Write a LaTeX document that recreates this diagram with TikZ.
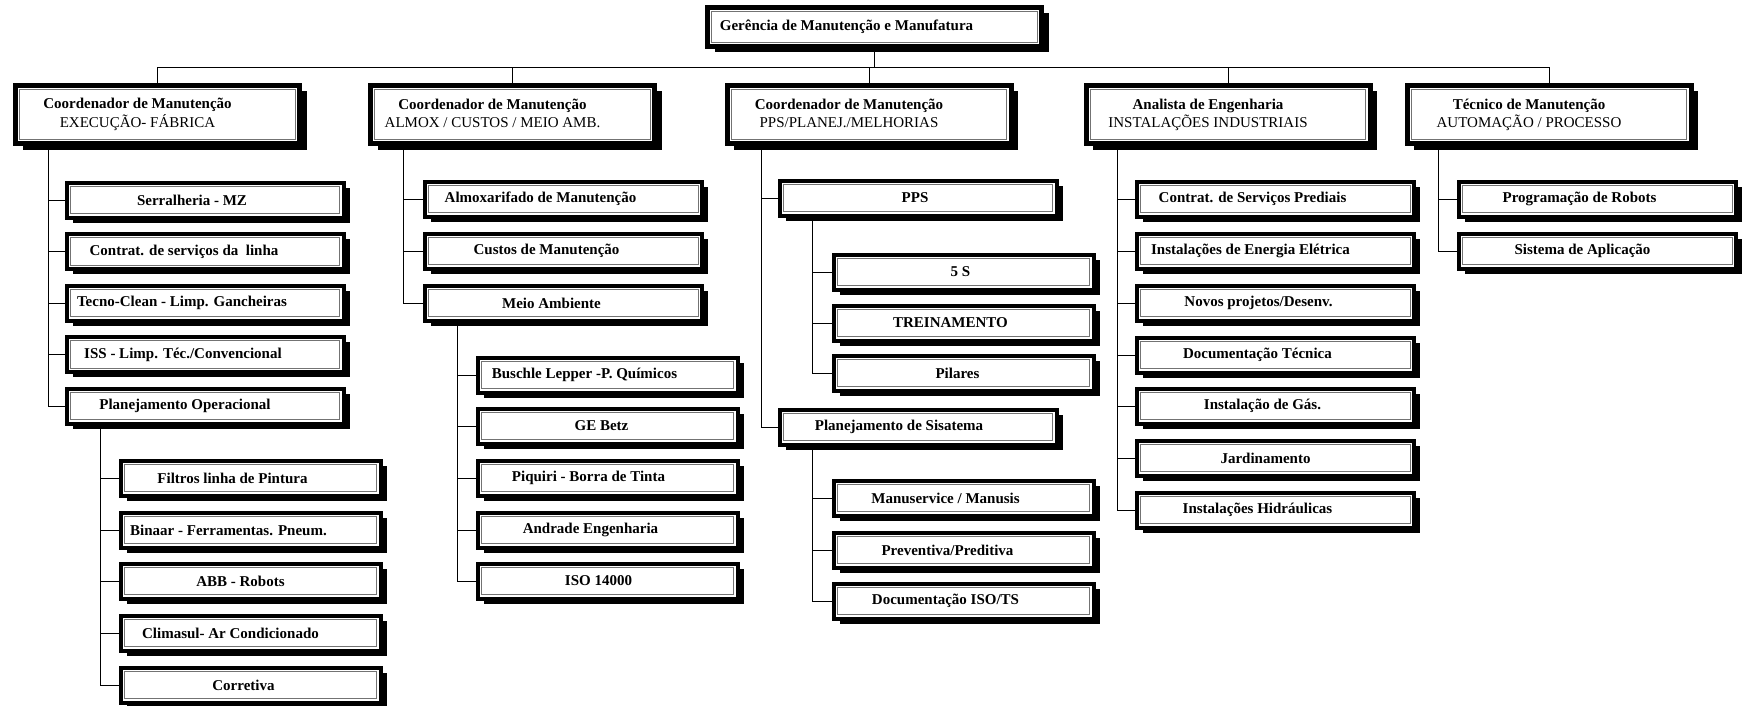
\documentclass[tikz,border=0pt]{standalone}
\usepackage{fontspec}
\setmainfont{Liberation Serif}
\usetikzlibrary{shadows}
% two-line caption of a coordinator box, shifted left by a trailing gap
\newcommand\twoline[2]{\begin{tabular}{@{}c@{}}#1\\\mdseries #2\end{tabular}\hspace*{40pt}}
\begin{document}
\begin{tikzpicture}[x=1pt,y=-1pt,
  box/.style={draw=black, fill=white, inner sep=0pt, outer sep=0pt,
    font=\fontsize{15}{18}\selectfont\bfseries},
  lvtop/.style={box, line width=5pt, minimum width=334pt, minimum height=39pt,
    drop shadow={shadow xshift=7pt, shadow yshift=-6pt, fill=black, opacity=1}},
  lvone/.style={box, line width=5pt, minimum width=284pt, minimum height=58pt,
    drop shadow={shadow xshift=7pt, shadow yshift=-6pt, fill=black, opacity=1}},
  lvtwo/.style={box, line width=4pt, minimum width=277pt, minimum height=35pt,
    drop shadow={shadow xshift=6pt, shadow yshift=-5pt, fill=black, opacity=1}},
  lvsub/.style={lvtwo, minimum width=260pt},
  innerline/.style={draw=black!55, line width=0.9pt},
  link/.style={draw=black, line width=1pt}
]
\useasboundingbox (0,0) rectangle (1752,706);

% bus and trunk positions
\coordinate (bus) at (0,68);
\coordinate (t1) at (48,0);
\coordinate (tp) at (100,0);
\coordinate (t2) at (403,0);
\coordinate (tm) at (457,0);
\coordinate (t3) at (761,0);
\coordinate (tq) at (812,0);
\coordinate (t4) at (1117,0);
\coordinate (t5) at (1438,0);

% top management
\node[lvtop] (g) at (874.5,27) {Gerência de Manutenção e Manufatura\hspace*{56pt}};

% coordinators
\node[lvone] (c1) at (157.5,114.5) {\twoline{Coordenador de Manutenção}{EXECUÇÃO- FÁBRICA}};
\node[lvone] (c2) at (512.5,114.5) {\twoline{Coordenador de Manutenção}{ALMOX / CUSTOS / MEIO AMB.}};
\node[lvone] (c3) at (869,114.5) {\twoline{Coordenador de Manutenção}{PPS/PLANEJ./MELHORIAS}};
\node[lvone] (c4) at (1228,114.5) {\twoline{Analista de Engenharia}{INSTALAÇÕES INDUSTRIAIS}};
\node[lvone] (c5) at (1549,114.5) {\twoline{Técnico de Manutenção}{AUTOMAÇÃO / PROCESSO}};

% column 1
\node[lvtwo] (s11) at (205,200) {Serralheria - MZ\hspace*{26pt}};
\node[lvtwo] (s12) at (205,251.5) {Contrat. de serviços da\ \ linha\hspace*{42pt}};
\node[lvtwo] (s13) at (205,303) {Tecno-Clean - Limp. Gancheiras\hspace*{46pt}};
\node[lvtwo] (s14) at (205,354.5) {ISS - Limp. Téc./Convencional\hspace*{44pt}};
\node[lvtwo] (s15) at (205,406) {Planejamento Operacional\hspace*{40pt}};
\node[lvsub] (p1) at (250.5,478) {Filtros linha de Pintura\hspace*{36pt}};
\node[lvsub] (p2) at (250.5,530) {Binaar - Ferramentas. Pneum.\hspace*{44pt}};
\node[lvsub] (p3) at (250.5,581) {ABB - Robots\hspace*{20pt}};
\node[lvsub] (p4) at (250.5,633) {Climasul- Ar Condicionado\hspace*{40pt}};
\node[lvsub] (p5) at (250.5,685) {Corretiva\hspace*{14pt}};

% column 2
\node[lvtwo] (s21) at (563.5,199) {Almoxarifado de Manutenção\hspace*{46pt}};
\node[lvtwo] (s22) at (563.5,251) {Custos de Manutenção\hspace*{34pt}};
\node[lvtwo] (s23) at (563.5,303) {Meio Ambiente\hspace*{24pt}};
\node[lvsub] (m1) at (607.5,375) {Buschle Lepper -P. Químicos\hspace*{46pt}};
\node[lvsub] (m2) at (607.5,426) {GE Betz\hspace*{12pt}};
\node[lvsub] (m3) at (607.5,478) {Piquiri - Borra de Tinta\hspace*{38pt}};
\node[lvsub] (m4) at (607.5,530) {Andrade Engenharia\hspace*{34pt}};
\node[lvsub] (m5) at (607.5,581) {ISO 14000\hspace*{18pt}};

% column 3
\node[lvtwo] (s31) at (918,198) {PPS\hspace*{6pt}};
\node[lvsub] (q1) at (963.5,272) {5 S\hspace*{6pt}};
\node[lvsub] (q2) at (963.5,323) {TREINAMENTO\hspace*{26pt}};
\node[lvsub] (q3) at (963.5,373) {Pilares\hspace*{12pt}};
\node[lvtwo] (s32) at (918,427) {Planejamento de Sisatema\hspace*{38pt}};
\node[lvsub] (r1) at (963.5,498) {Manuservice / Manusis\hspace*{36pt}};
\node[lvsub] (r2) at (963.5,550) {Preventiva/Preditiva\hspace*{32pt}};
\node[lvsub] (r3) at (963.5,601) {Documentação ISO/TS\hspace*{36pt}};

% column 4
\node[lvtwo] (s41) at (1275.5,199) {Contrat. de Serviços Prediais\hspace*{46pt}};
\node[lvtwo] (s42) at (1275.5,251) {Instalações de Energia Elétrica\hspace*{50pt}};
\node[lvtwo] (s43) at (1275.5,303) {Novos projetos/Desenv.\hspace*{34pt}};
\node[lvtwo] (s44) at (1275.5,355) {Documentação Técnica\hspace*{36pt}};
\node[lvtwo] (s45) at (1275.5,406) {Instalação de Gás.\hspace*{26pt}};
\node[lvtwo] (s46) at (1275.5,458) {Jardinamento\hspace*{20pt}};
\node[lvtwo] (s47) at (1275.5,510) {Instalações Hidráulicas\hspace*{36pt}};

% column 5
\node[lvtwo] (s51) at (1597.5,199) {Programação de Robots\hspace*{36pt}};
\node[lvtwo] (s52) at (1597.5,251) {Sistema de Aplicação\hspace*{30pt}};

% thin inner frame of each box
\foreach \n in {g,c1,c2,c3,c4,c5}
  \draw[innerline] ([shift={(4.2pt,-4.2pt)}]\n.north west) rectangle ([shift={(-4.2pt,4.2pt)}]\n.south east);
\foreach \n in {s11,s12,s13,s14,s15,p1,p2,p3,p4,p5,s21,s22,s23,m1,m2,m3,m4,m5,
                s31,q1,q2,q3,s32,r1,r2,r3,s41,s42,s43,s44,s45,s46,s47,s51,s52}
  \draw[innerline] ([shift={(3.6pt,-3.6pt)}]\n.north west) rectangle ([shift={(-3.6pt,3.6pt)}]\n.south east);

% top bus
\draw[link] (g.south) -- (g.south |- bus);
\draw[link] (c1.north) -- (c1.north |- bus) -- (c5.north |- bus) -- (c5.north);
\foreach \n in {c2,c3,c4}
  \draw[link] (\n.north) -- (\n.north |- bus);

% branches
\foreach \n in {s11,s12,s13,s14,s15}
  \draw[link] (t1 |- c1.south) |- (\n.west);
\foreach \n in {p1,p2,p3,p4,p5}
  \draw[link] (tp |- s15.south) |- (\n.west);
\foreach \n in {s21,s22,s23}
  \draw[link] (t2 |- c2.south) |- (\n.west);
\foreach \n in {m1,m2,m3,m4,m5}
  \draw[link] (tm |- s23.south) |- (\n.west);
\foreach \n in {s31,s32}
  \draw[link] (t3 |- c3.south) |- (\n.west);
\foreach \n in {q1,q2,q3}
  \draw[link] (tq |- s31.south) |- (\n.west);
\foreach \n in {r1,r2,r3}
  \draw[link] (tq |- s32.south) |- (\n.west);
\foreach \n in {s41,s42,s43,s44,s45,s46,s47}
  \draw[link] (t4 |- c4.south) |- (\n.west);
\foreach \n in {s51,s52}
  \draw[link] (t5 |- c5.south) |- (\n.west);
\end{tikzpicture}
\end{document}
